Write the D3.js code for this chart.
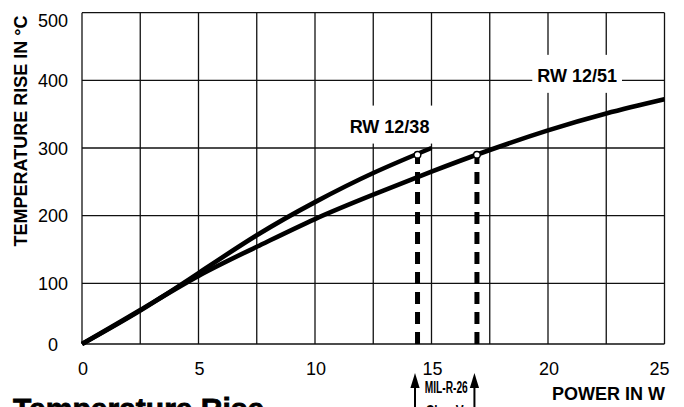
<!DOCTYPE html>
<html>
<head>
<meta charset="utf-8">
<script src="https://cdn.jsdelivr.net/npm/d3@7"></script>
<style>
    body { margin: 0; background: #fff; }
    svg { display: block; font-family: "Liberation Sans", Arial, Helvetica, sans-serif; }
</style>
</head>
<body>
<svg id="chart" width="684" height="407"></svg>
<script>
// Data
const powerA = [0, 2.5, 5, 7.5, 10, 12.5, 15]; // RW 12/38, W
const tempA = [0, 55, 115, 171, 220, 263, 300]; // RW 12/38, °C
const powerB = [0, 2.5, 5, 7.5, 10, 12.5, 15, 17.5, 20, 22.5, 25]; // RW 12/51, W
const tempB = [0, 56, 111, 154, 195, 231, 265, 297, 326, 351, 372]; // RW 12/51, °C
const markPower = [14.4, 16.95]; // MIL-R-26 Char V rating points
const markTemp = [290, 290];
const xTicks = [0, 5, 10, 15, 20, 25];
const yTicks = [0, 100, 200, 300, 400, 500];
const xGrid = [0, 2.5, 5, 7.5, 10, 12.5, 15, 17.5, 20, 22.5, 25];
const seriesNames = ["RW 12/38", "RW 12/51"];
const labelPos = [[13.2, 325], [21.25, 400]]; // where the series names sit, in data units

const svg = d3.select("#chart");

// Scales (the scan's bottom band is a bit squashed, hence the 3-stop y scale)
const x = d3.scaleLinear().domain([0, 25]).range([82, 664.5]);
const y = d3.scaleLinear().domain([0, 100, 500]).range([344, 283.3, 12.7]);

// Grid
const gridGroup = svg.append("g")
    .attr("stroke", "#111")
    .attr("stroke-width", 1.3);
gridGroup.selectAll("line.v")
    .data(xGrid)
    .enter()
    .append("line")
    .attr("class", "v")
    .attr("x1", d => x(d))
    .attr("x2", d => x(d))
    .attr("y1", y(0))
    .attr("y2", y(500));
gridGroup.selectAll("line.h")
    .data(yTicks)
    .enter()
    .append("line")
    .attr("class", "h")
    .attr("x1", x(0))
    .attr("x2", x(25))
    .attr("y1", d => y(d))
    .attr("y2", d => y(d));

// Tick labels
svg.append("g").selectAll("text")
    .data(yTicks)
    .enter()
    .append("text")
    .attr("font-size", "18px")
    .attr("text-anchor", "middle")
    .attr("x", 53)
    .attr("y", d => Math.max(y(d) + 6.5, 27))
    .text(d => d);

svg.append("g").selectAll("text")
    .data(xTicks)
    .enter()
    .append("text")
    .attr("font-size", "18px")
    .attr("text-anchor", "middle")
    .attr("x", d => d === 25 ? x(d) - 5 : x(d) + 1)
    .attr("y", 375)
    .text(d => d);

// Axis titles
svg.append("text")
    .attr("font-size", "18px")
    .attr("font-weight", "bold")
    .attr("text-anchor", "middle")
    .attr("transform", "translate(26.5,131) rotate(-90)")
    .text("TEMPERATURE RISE IN °C");

svg.append("text")
    .attr("font-size", "18px")
    .attr("font-weight", "bold")
    .attr("text-anchor", "end")
    .attr("x", 665)
    .attr("y", 400)
    .text("POWER IN W");

// Series name labels with white boxes knocking out the grid
const labelGroup = svg.append("g");
labelGroup.selectAll("g")
    .data(seriesNames)
    .enter()
    .append("g")
    .each(function(d, i) {
        const g = d3.select(this);
        const rect = g.append("rect").attr("fill", "#fff");
        const base = y(labelPos[i][1]) + 1.5;
        const t = g.append("text")
            .attr("font-size", "18px")
            .attr("font-weight", "bold")
            .attr("text-anchor", "middle")
            .attr("x", x(labelPos[i][0]))
            .attr("y", base)
            .text(d);
        const bb = t.node().getBBox();
        rect.attr("x", bb.x - 5)
            .attr("width", bb.width + 10)
            .attr("y", base - 27)
            .attr("height", 38);
    });

// Dashed drop lines from the rating points
const markers = markPower.map((p, i) => ({ p: p, t: markTemp[i] }));
svg.append("g").selectAll("line")
    .data(markers)
    .enter()
    .append("line")
    .attr("stroke", "#000")
    .attr("stroke-width", 5)
    .attr("stroke-dasharray", "12,8")
    .attr("x1", d => x(d.p))
    .attr("x2", d => x(d.p))
    .attr("y1", y(0))
    .attr("y2", d => y(d.t) + 3);

// Curves
const line = d3.line()
    .x(d => x(d[0]))
    .y(d => y(d[1]))
    .curve(d3.curveNatural);
const curves = [d3.zip(powerA, tempA), d3.zip(powerB, tempB)];
svg.append("g").selectAll("path")
    .data(curves)
    .enter()
    .append("path")
    .attr("d", line)
    .attr("fill", "none")
    .attr("stroke", "#000")
    .attr("stroke-width", 4.6);

// Rating point circles
svg.append("g").selectAll("circle")
    .data(markers)
    .enter()
    .append("circle")
    .attr("r", 3.3)
    .attr("fill", "#fff")
    .attr("stroke", "#000")
    .attr("stroke-width", 1.4)
    .attr("cx", d => x(d.p))
    .attr("cy", d => y(d.t));

// MIL-R-26 arrows under the axis
const arrowGroup = svg.append("g");
arrowGroup.selectAll("line")
    .data(markers)
    .enter()
    .append("line")
    .attr("stroke", "#000")
    .attr("stroke-width", 2)
    .attr("x1", d => x(d.p) - 2.5)
    .attr("x2", d => x(d.p) - 2.5)
    .attr("y1", 386)
    .attr("y2", 410);
arrowGroup.selectAll("path")
    .data(markers)
    .enter()
    .append("path")
    .attr("fill", "#000")
    .attr("d", d => {
        const ax = x(d.p) - 2.5;
        return `M ${ax},373 L ${ax + 4.6},388 L ${ax - 4.6},388 Z`;
    });

const midX = (x(markPower[0]) + x(markPower[1])) / 2 - 2.5;
svg.append("text")
    .attr("font-size", "16px")
    .attr("font-weight", "bold")
    .attr("text-anchor", "middle")
    .attr("textLength", 43)
    .attr("lengthAdjust", "spacingAndGlyphs")
    .attr("x", midX + 1.5)
    .attr("y", 393)
    .text("MIL-R-26");
svg.append("text")
    .attr("font-size", "16px")
    .attr("font-weight", "bold")
    .attr("text-anchor", "middle")
    .attr("textLength", 38)
    .attr("lengthAdjust", "spacingAndGlyphs")
    .attr("x", midX)
    .attr("y", 417)
    .text("Char V");

// Big title, cut off by the bottom edge in the reference
svg.append("text")
    .attr("font-size", "30px")
    .attr("font-weight", "bold")
    .attr("stroke", "#000")
    .attr("stroke-width", 0.8)
    .attr("x", 13)
    .attr("y", 419)
    .text("Temperature Rise");
</script>
</body>
</html>
